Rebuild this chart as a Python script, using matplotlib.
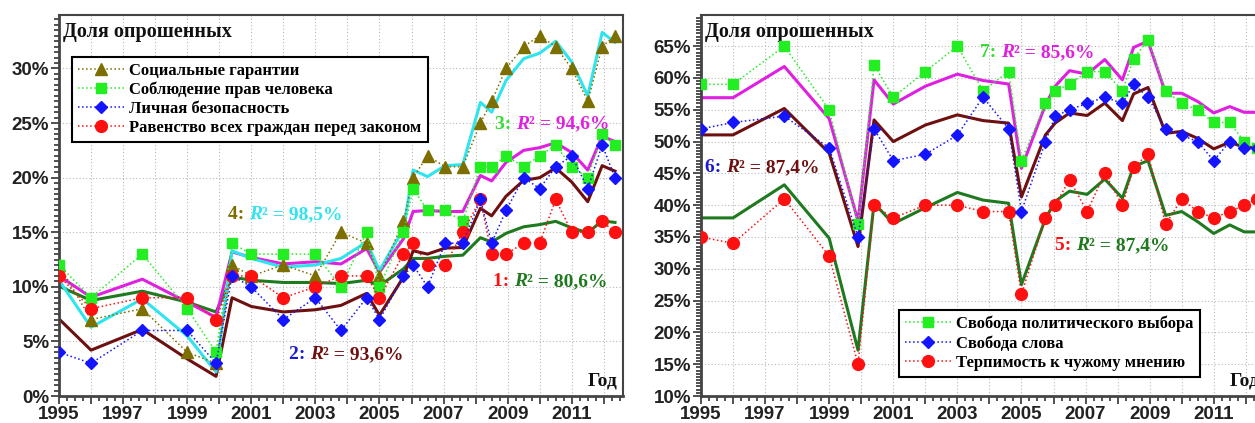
import matplotlib.pyplot as plt
from matplotlib.ticker import MultipleLocator, FuncFormatter

# survey dates (fractional years)
years = [1995, 1996, 1997.6, 1999, 1999.9, 2000.4, 2001, 2002, 2003, 2003.8,
         2004.6, 2005, 2005.75, 2006.05, 2006.5, 2007.05, 2007.6, 2008.15,
         2008.5, 2008.95, 2009.5, 2010, 2010.5, 2011, 2011.5, 2011.95, 2012.35]

# left panel, % of respondents
soc_garantii = [12, 7, 8, 4, 3, 12, 11, 12, 11, 15, 14, 11, 16, 20, 22, 21, 21,
                25, 27, 30, 32, 33, 32, 30, 27, 32, 33]
prava = [12, 9, 13, 8, 4, 14, 13, 13, 13, 10, 15, 10, 15, 19, 17, 17, 16,
         21, 21, 22, 21, 22, 23, 21, 20, 24, 23]
bezopasnost = [4, 3, 6, 6, 3, 11, 10, 7, 9, 6, 9, 7, 11, 12, 10, 14, 14,
               18, 14, 17, 20, 19, 21, 22, 19, 23, 20]
ravenstvo = [11, 8, 9, 9, 7, 11, 11, 9, 10, 11, 11, 9, 13, 14, 12, 12, 15,
             18, 13, 13, 14, 14, 18, 15, 15, 16, 15]

# model curves, left panel
fit4 = [10.6, 6.3, 8.9, 5.5, 2.2, 13.3, 12.6, 11.8, 12.0, 12.6, 14.1, 11.5, 15.3,
        20.7, 20.1, 21.1, 21.2, 26.9, 26.0, 28.9, 30.9, 31.4, 32.5, 30.6, 27.5, 33.3, 32.4]
fit3 = [11.0, 9.05, 10.7, 8.6, 7.2, 13.2, 12.7, 12.1, 12.3, 12.1, 13.5, 11.35, 14.4,
        16.9, 17.0, 16.9, 16.9, 20.2, 19.7, 21.4, 22.5, 22.75, 23.2, 22.3, 20.7, 23.8, 23.3]
fit2 = [7.06, 4.2, 6.1, 3.4, 1.8, 9.0, 8.2, 7.7, 7.9, 8.3, 9.4, 7.4, 10.9,
        13.3, 13.0, 13.55, 13.6, 17.2, 16.5, 18.3, 19.75, 20.0, 20.9, 19.6, 17.8, 21.1, 20.6]
fit1 = [10.06, 8.75, 9.6, 8.6, 7.7, 10.9, 10.6, 10.4, 10.4, 10.3, 10.6, 10.1, 11.65,
        12.6, 12.6, 12.8, 12.9, 14.5, 14.1, 14.9, 15.5, 15.7, 16.0, 15.4, 14.95, 16.05, 15.9]

# right panel
svoboda_vybora = [59, 59, 65, 55, 37, 62, 57, 61, 65, 58, 61, 47, 56, 58, 59, 61, 61,
                  58, 63, 66, 58, 56, 55, 53, 53, 50, 49]
svoboda_slova = [52, 53, 54, 49, 35, 52, 47, 48, 51, 57, 52, 39, 50, 54, 55, 56, 57,
                 56, 59, 57, 52, 51, 50, 47, 50, 49, 49]
terpimost = [35, 34, 41, 32, 15, 40, 38, 40, 40, 39, 39, 26, 38, 40, 44, 39, 45,
             40, 46, 48, 37, 41, 39, 38, 39, 40, 41]

fit7 = [56.9, 56.9, 61.8, 53.6, 37.5, 59.7, 55.9, 58.7, 60.6, 59.6, 59.05, 45.8, 55.8,
        58.7, 61.15, 60.6, 62.9, 59.7, 64.8, 65.8, 57.6, 57.6, 56.3, 54.5, 55.5, 54.6, 54.6]
fit6 = [51.05, 51.05, 55.2, 48.2, 33.5, 53.4, 50.0, 52.6, 54.2, 53.3, 52.9, 41.3, 51.05,
        52.9, 54.5, 54.1, 56.05, 53.3, 57.5, 58.5, 51.3, 51.6, 50.5, 48.85, 49.9, 49.1, 49.1]
fit5 = [38.0, 38.0, 43.2, 34.8, 17.2, 40.3, 37.1, 39.6, 42.0, 40.8, 40.3, 27.5, 37.9,
        40.6, 42.2, 41.7, 44.1, 41.1, 46.1, 47.0, 38.4, 39.0, 37.4, 35.55, 36.9, 35.8, 35.8]

OLIVE = '#7d6e00'
LIME = '#22ee22'
BLUE = '#1414ff'
RED = '#ff1010'
CYAN = '#30e4ee'
MAGENTA = '#e020e0'
MAROON = '#6e1010'
DGREEN = '#1f7a1f'

serif = dict(family='Liberation Serif', weight='bold')

fig = plt.figure(figsize=(12.55, 4.23), dpi=100)
W, H = 1255, 423
axL = fig.add_axes([59 / W, 1 - 396 / H, 564 / W, 381 / H])
axR = fig.add_axes([701 / W, 1 - 396 / H, 564 / W, 381 / H])


def style_axes(ax, ylo, yhi):
    ax.set_xlim(1995, 2012.6)
    ax.set_ylim(ylo, yhi)
    ax.xaxis.set_major_locator(MultipleLocator(1))
    ax.xaxis.set_minor_locator(MultipleLocator(0.25))
    ax.yaxis.set_major_locator(MultipleLocator(5))
    ax.yaxis.set_minor_locator(MultipleLocator(0.5))
    ax.xaxis.set_major_formatter(FuncFormatter(
        lambda v, p: '%d' % v if int(round(v)) % 2 == 1 else ''))
    ax.yaxis.set_major_formatter(FuncFormatter(lambda v, p: '%d%%' % v))
    ax.grid(True, which='major', color='#b8b8b8', lw=0.8, ls=(0, (1, 2)))
    ax.tick_params(which='both', direction='out', top=False, right=False,
                   color='#333333', width=1.2, pad=1)
    ax.tick_params(which='major', length=6)
    ax.tick_params(which='minor', length=3.5)
    for lab in ax.get_xticklabels() + ax.get_yticklabels():
        lab.set_fontfamily('Liberation Sans')
        lab.set_fontweight('bold')
        lab.set_fontsize(13.5)
        lab.set_color('#222222')
    for s in ax.spines.values():
        s.set_color('#444444')
        s.set_linewidth(1.5)
    ax.spines['left'].set_linewidth(2)
    ax.spines['bottom'].set_linewidth(2)
    ax.text(0.007, 0.955, 'Доля опрошенных', transform=ax.transAxes,
            fontsize=14.5, va='center', ha='left', color='#111111', **serif)
    ax.text(0.937, 0.04, 'Год', transform=ax.transAxes, fontsize=14,
            va='center', ha='left', color='#111111', **serif)


def r2_label(ax, x, y, prefix, pcol, value, tcol):
    # "N: " + italic R + "² = value"
    t1 = ax.text(x, y, prefix + ' ', color=pcol, fontsize=14, va='baseline',
                 ha='left', **serif)
    t2 = ax.annotate('R', xy=(1, 0), xycoords=t1, va='bottom', ha='left',
                     color=tcol, fontsize=14, family='Liberation Serif',
                     weight='bold', style='italic')
    ax.annotate('² = ' + value, xy=(1, 0), xycoords=t2, va='bottom', ha='left',
                color=tcol, fontsize=14, **serif)


def series(ax, y, color, marker, ms, label):
    ax.plot(years, y, ls=':', lw=1.1, color=color, marker=marker, ms=ms,
            mfc=color, mec=color, label=label, zorder=3)


# ---- left panel ----
style_axes(axL, 0, 34.9)
for f, c in [(fit1, DGREEN), (fit2, MAROON), (fit3, MAGENTA), (fit4, CYAN)]:
    axL.plot(years, f, color=c, lw=2.2, zorder=2)
series(axL, soc_garantii, OLIVE, '^', 8, 'Социальные гарантии')
series(axL, prava, LIME, 's', 7, 'Соблюдение прав человека')
series(axL, ravenstvo, RED, 'o', 8.5, 'Равенство всех граждан перед законом')
series(axL, bezopasnost, BLUE, 'D', 6, 'Личная безопасность')
h, l = axL.get_legend_handles_labels()
order = [0, 1, 3, 2]
legL = axL.legend([h[i] for i in order], [l[i] for i in order], loc='upper left',
                  bbox_to_anchor=(0.023, 0.89), borderaxespad=0, fancybox=False,
                  edgecolor='black', framealpha=1, handlelength=2.8,
                  handletextpad=0.3, labelspacing=0.18, borderpad=0.35,
                  prop=dict(family='Liberation Serif', weight='bold', size=12))
legL.get_frame().set_linewidth(1.5)

r2_label(axL, 2000.27, 16.2, '4:', OLIVE, '98,5%', CYAN)
r2_label(axL, 2008.6, 24.5, '3:', '#33dd33', '94,6%', MAGENTA)
r2_label(axL, 2002.17, 3.4, '2:', '#1a1ad0', '93,6%', MAROON)
r2_label(axL, 2008.54, 10.1, '1:', RED, '80,6%', DGREEN)

# ---- right panel ----
style_axes(axR, 10, 69.9)
for f, c in [(fit5, DGREEN), (fit6, MAROON), (fit7, MAGENTA)]:
    axR.plot(years, f, color=c, lw=2.2, zorder=2)
series(axR, svoboda_vybora, LIME, 's', 7, 'Свобода политического выбора')
series(axR, terpimost, RED, 'o', 8.5, 'Терпимость к чужому мнению')
series(axR, svoboda_slova, BLUE, 'D', 6, 'Свобода слова')
h, l = axR.get_legend_handles_labels()
order = [0, 2, 1]
legR = axR.legend([h[i] for i in order], [l[i] for i in order], loc='upper left',
                  bbox_to_anchor=(0.351, 0.226), borderaxespad=0, fancybox=False,
                  edgecolor='black', framealpha=1, handlelength=2.8,
                  handletextpad=0.3, labelspacing=0.2, borderpad=0.35,
                  prop=dict(family='Liberation Serif', weight='bold', size=12))
legR.get_frame().set_linewidth(1.5)

r2_label(axR, 2003.7, 63.3, '7:', '#33dd33', '85,6%', MAGENTA)
r2_label(axR, 1995.12, 45.2, '6:', '#1a1ad0', '87,4%', MAROON)
r2_label(axR, 2006.04, 32.9, '5:', RED, '87,4%', DGREEN)

fig.savefig('out.png', dpi=100)
